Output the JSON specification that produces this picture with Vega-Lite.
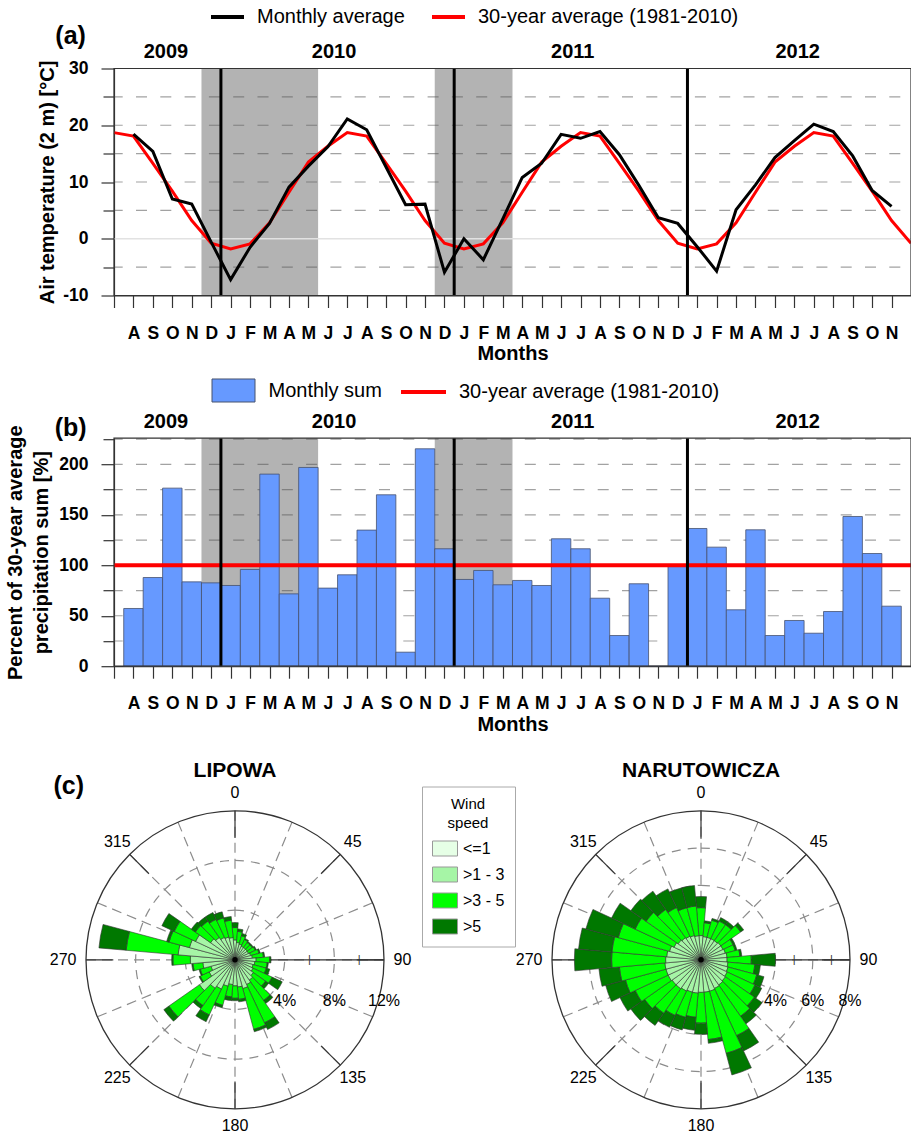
{
"$schema": "https://vega.github.io/schema/vega-lite/v6.json",
"background": "white",
"padding": {"left": 5, "top": -2.5, "right": 0, "bottom": 0},
"config": {
  "font": "Liberation Sans",
  "view": {"stroke": null},
  "axis": {"labelFont": "Liberation Sans", "labelFontWeight": "bold", "labelFontSize": 17.5, "labelColor": "#000", "titleFont": "Liberation Sans", "titleFontWeight": "bold", "titleFontSize": 20, "titleColor": "#000", "domainColor": "#333", "domainWidth": 1.2, "tickColor": "#333", "tickWidth": 1.2, "grid": false},
  "axisX": {"labelOverlap": false, "labelFlush": false, "labelBound": false},
  "legend": {"labelFont": "Liberation Sans", "labelColor": "#000", "labelLimit": 500},
  "text": {"font": "Liberation Sans"}
},
"datasets": {
  "temp": [
    {"i":0,"avg":18.7},{"i":1,"obs":18.45,"avg":18.1},{"i":2,"obs":15.4,"avg":13.3},{"i":3,"obs":7.0,"avg":8.4},{"i":4,"obs":6.1,"avg":3.2},{"i":5,"obs":-0.6,"avg":-0.8},
    {"i":6,"obs":-7.2,"avg":-1.8},{"i":7,"obs":-1.5,"avg":-0.9},{"i":8,"obs":2.7,"avg":2.8},{"i":9,"obs":9.1,"avg":8.2},{"i":10,"obs":12.8,"avg":13.5},{"i":11,"obs":16.2,"avg":16.3},
    {"i":12,"obs":21.1,"avg":18.7},{"i":13,"obs":19.2,"avg":18.1},{"i":14,"obs":12.6,"avg":13.3},{"i":15,"obs":6.0,"avg":8.4},{"i":16,"obs":6.1,"avg":3.2},{"i":17,"obs":-5.9,"avg":-0.8},
    {"i":18,"obs":0.0,"avg":-1.8},{"i":19,"obs":-3.7,"avg":-0.9},{"i":20,"obs":3.5,"avg":2.8},{"i":21,"obs":10.8,"avg":8.2},{"i":22,"obs":13.3,"avg":13.5},{"i":23,"obs":18.4,"avg":16.3},
    {"i":24,"obs":17.7,"avg":18.7},{"i":25,"obs":18.9,"avg":18.1},{"i":26,"obs":14.8,"avg":13.3},{"i":27,"obs":9.4,"avg":8.4},{"i":28,"obs":3.7,"avg":3.2},{"i":29,"obs":2.7,"avg":-0.8},
    {"i":30,"obs":-1.4,"avg":-1.8},{"i":31,"obs":-5.7,"avg":-0.9},{"i":32,"obs":5.1,"avg":2.8},{"i":33,"obs":9.5,"avg":8.2},{"i":34,"obs":14.3,"avg":13.5},{"i":35,"obs":17.3,"avg":16.3},
    {"i":36,"obs":20.2,"avg":18.7},{"i":37,"obs":18.9,"avg":18.1},{"i":38,"obs":14.6,"avg":13.3},{"i":39,"obs":8.5,"avg":8.4},{"i":40,"obs":5.7,"avg":3.2},{"i":41,"avg":-0.8}
  ],
  "precip": [
    {"i":1,"p":57.2},{"i":2,"p":87.9},{"i":3,"p":176.5},{"i":4,"p":83.6},{"i":5,"p":82.6},{"i":6,"p":80.0},{"i":7,"p":95.9},{"i":8,"p":190.4},{"i":9,"p":71.7},{"i":10,"p":197.0},
    {"i":11,"p":77.4},{"i":12,"p":90.6},{"i":13,"p":134.9},{"i":14,"p":169.9},{"i":15,"p":13.9},{"i":16,"p":215.5},{"i":17,"p":116.4},{"i":18,"p":86.0},{"i":19,"p":94.9},{"i":20,"p":80.7},
    {"i":21,"p":85.0},{"i":22,"p":80.0},{"i":23,"p":126.3},{"i":24,"p":116.4},{"i":25,"p":67.4},{"i":26,"p":30.4},{"i":27,"p":81.7},{"i":28,"p":0},{"i":29,"p":98.8},{"i":30,"p":136.5},
    {"i":31,"p":118.0},{"i":32,"p":55.9},{"i":33,"p":135.2},{"i":34,"p":30.4},{"i":35,"p":45.3},{"i":36,"p":32.7},{"i":37,"p":54.2},{"i":38,"p":148.4},{"i":39,"p":111.7},{"i":40,"p":59.5}
  ],
  "shades": [{"s":4.5,"e":10.5},{"s":16.5,"e":20.5}],
  "yearlines": [{"b":5.5},{"b":17.5},{"b":29.5}],
  "years": [{"yr":"2009","mid":2.67},{"yr":"2010","mid":11.32},{"yr":"2011","mid":23.6},{"yr":"2012","mid":35.17}],
  "angles": [{"a":0,"lab":"0"},{"a":45,"lab":"45"},{"a":90,"lab":"90"},{"a":135,"lab":"135"},{"a":180,"lab":"180"},{"a":225,"lab":"225"},{"a":270,"lab":"270"},{"a":315,"lab":"315"}],
  "spokes": [{"a":0},{"a":22.5},{"a":45},{"a":67.5},{"a":90},{"a":112.5},{"a":135},{"a":157.5},{"a":180},{"a":202.5},{"a":225},{"a":247.5},{"a":270},{"a":292.5},{"a":315},{"a":337.5}],
  "wind": [
    {"s":"LIPOWA","d":0,"<=1":0.2,">1 - 3":1.4,">3 - 5":1.0,">5":0.4},
    {"s":"LIPOWA","d":10,"<=1":0.2,">1 - 3":1.2,">3 - 5":0.9,">5":0.2},
    {"s":"LIPOWA","d":20,"<=1":0.2,">1 - 3":1.1,">3 - 5":0.7,">5":0.2},
    {"s":"LIPOWA","d":30,"<=1":0.2,">1 - 3":1.0,">3 - 5":0.6,">5":0.1},
    {"s":"LIPOWA","d":40,"<=1":0.2,">1 - 3":1.0,">3 - 5":0.5,">5":0.1},
    {"s":"LIPOWA","d":50,"<=1":0.2,">1 - 3":1.0,">3 - 5":0.5,">5":0.1},
    {"s":"LIPOWA","d":60,"<=1":0.2,">1 - 3":1.0,">3 - 5":0.6,">5":0.1},
    {"s":"LIPOWA","d":70,"<=1":0.2,">1 - 3":1.1,">3 - 5":0.7,">5":0.1},
    {"s":"LIPOWA","d":80,"<=1":0.2,">1 - 3":1.2,">3 - 5":0.9,">5":0.1},
    {"s":"LIPOWA","d":90,"<=1":0.2,">1 - 3":1.5,">3 - 5":1.1,">5":0.1},
    {"s":"LIPOWA","d":100,"<=1":0.2,">1 - 3":1.4,">3 - 5":1.0,">5":0.1},
    {"s":"LIPOWA","d":110,"<=1":0.2,">1 - 3":1.3,">3 - 5":1.1,">5":0.3},
    {"s":"LIPOWA","d":120,"<=1":0.2,">1 - 3":1.4,">3 - 5":1.7,">5":0.9},
    {"s":"LIPOWA","d":130,"<=1":0.2,">1 - 3":1.6,">3 - 5":1.2,">5":0.3},
    {"s":"LIPOWA","d":140,"<=1":0.2,">1 - 3":1.8,">3 - 5":2.0,">5":0.3},
    {"s":"LIPOWA","d":150,"<=1":0.2,">1 - 3":2.0,">3 - 5":3.4,">5":0.6},
    {"s":"LIPOWA","d":160,"<=1":0.2,">1 - 3":2.2,">3 - 5":3.4,">5":0.2},
    {"s":"LIPOWA","d":170,"<=1":0.2,">1 - 3":2.0,">3 - 5":1.0,">5":0.2},
    {"s":"LIPOWA","d":180,"<=1":0.2,">1 - 3":1.9,">3 - 5":1.0,">5":0.2},
    {"s":"LIPOWA","d":190,"<=1":0.2,">1 - 3":1.8,">3 - 5":1.0,">5":0.3},
    {"s":"LIPOWA","d":200,"<=1":0.2,">1 - 3":2.0,">3 - 5":1.6,">5":0.2},
    {"s":"LIPOWA","d":210,"<=1":0.2,">1 - 3":2.4,">3 - 5":2.3,">5":0.6},
    {"s":"LIPOWA","d":220,"<=1":0.2,">1 - 3":2.6,">3 - 5":1.7,">5":0.3},
    {"s":"LIPOWA","d":230,"<=1":0.2,">1 - 3":3.3,">3 - 5":3.0,">5":0.5},
    {"s":"LIPOWA","d":240,"<=1":0.2,">1 - 3":2.1,">3 - 5":0.8,">5":0.1},
    {"s":"LIPOWA","d":250,"<=1":0.2,">1 - 3":1.8,">3 - 5":0.9,">5":0.1},
    {"s":"LIPOWA","d":260,"<=1":0.2,">1 - 3":2.4,">3 - 5":0.8,">5":0.1},
    {"s":"LIPOWA","d":270,"<=1":0.2,">1 - 3":3.4,">3 - 5":1.4,">5":0.1},
    {"s":"LIPOWA","d":280,"<=1":0.2,">1 - 3":4.4,">3 - 5":4.2,">5":2.2},
    {"s":"LIPOWA","d":290,"<=1":0.2,">1 - 3":3.6,">3 - 5":1.7,">5":0.2},
    {"s":"LIPOWA","d":300,"<=1":0.2,">1 - 3":3.3,">3 - 5":1.9,">5":1.1},
    {"s":"LIPOWA","d":310,"<=1":0.2,">1 - 3":2.2,">3 - 5":1.5,">5":0.4},
    {"s":"LIPOWA","d":320,"<=1":0.2,">1 - 3":2.0,">3 - 5":1.6,">5":0.4},
    {"s":"LIPOWA","d":330,"<=1":0.2,">1 - 3":1.8,">3 - 5":1.6,">5":0.6},
    {"s":"LIPOWA","d":340,"<=1":0.2,">1 - 3":1.7,">3 - 5":1.6,">5":0.5},
    {"s":"LIPOWA","d":350,"<=1":0.2,">1 - 3":1.6,">3 - 5":1.4,">5":0.3},
    {"s":"NARUTOWICZA","d":0,"<=1":0.15,">1 - 3":1.15,">3 - 5":1.5,">5":0.6},
    {"s":"NARUTOWICZA","d":10,"<=1":0.15,">1 - 3":1.1,">3 - 5":0.75,">5":0.1},
    {"s":"NARUTOWICZA","d":20,"<=1":0.15,">1 - 3":1.1,">3 - 5":0.95,">5":0.1},
    {"s":"NARUTOWICZA","d":30,"<=1":0.15,">1 - 3":1.1,">3 - 5":1.05,">5":0.2},
    {"s":"NARUTOWICZA","d":40,"<=1":0.15,">1 - 3":1.1,">3 - 5":1.05,">5":0.2},
    {"s":"NARUTOWICZA","d":50,"<=1":0.15,">1 - 3":1.15,">3 - 5":1.3,">5":0.2},
    {"s":"NARUTOWICZA","d":60,"<=1":0.15,">1 - 3":1.15,">3 - 5":0.6,">5":0.1},
    {"s":"NARUTOWICZA","d":70,"<=1":0.15,">1 - 3":1.2,">3 - 5":0.55,">5":0.1},
    {"s":"NARUTOWICZA","d":80,"<=1":0.15,">1 - 3":1.25,">3 - 5":0.7,">5":0.1},
    {"s":"NARUTOWICZA","d":90,"<=1":0.15,">1 - 3":1.25,">3 - 5":1.3,">5":1.3},
    {"s":"NARUTOWICZA","d":100,"<=1":0.15,">1 - 3":1.3,">3 - 5":1.45,">5":0.3},
    {"s":"NARUTOWICZA","d":110,"<=1":0.15,">1 - 3":1.35,">3 - 5":1.6,">5":0.4},
    {"s":"NARUTOWICZA","d":120,"<=1":0.15,">1 - 3":1.4,">3 - 5":1.65,">5":0.4},
    {"s":"NARUTOWICZA","d":130,"<=1":0.15,">1 - 3":1.45,">3 - 5":1.9,">5":0.5},
    {"s":"NARUTOWICZA","d":140,"<=1":0.15,">1 - 3":1.5,">3 - 5":2.05,">5":0.5},
    {"s":"NARUTOWICZA","d":150,"<=1":0.15,">1 - 3":1.55,">3 - 5":2.8,">5":0.9},
    {"s":"NARUTOWICZA","d":160,"<=1":0.15,">1 - 3":1.6,">3 - 5":3.45,">5":1.2},
    {"s":"NARUTOWICZA","d":170,"<=1":0.15,">1 - 3":1.6,">3 - 5":2.55,">5":0.2},
    {"s":"NARUTOWICZA","d":180,"<=1":0.15,">1 - 3":1.6,">3 - 5":1.65,">5":0.6},
    {"s":"NARUTOWICZA","d":190,"<=1":0.15,">1 - 3":1.65,">3 - 5":1.3,">5":0.7},
    {"s":"NARUTOWICZA","d":200,"<=1":0.15,">1 - 3":1.65,">3 - 5":1.4,">5":0.7},
    {"s":"NARUTOWICZA","d":210,"<=1":0.15,">1 - 3":1.7,">3 - 5":1.45,">5":0.7},
    {"s":"NARUTOWICZA","d":220,"<=1":0.15,">1 - 3":1.75,">3 - 5":1.6,">5":0.8},
    {"s":"NARUTOWICZA","d":230,"<=1":0.15,">1 - 3":1.75,">3 - 5":1.8,">5":0.9},
    {"s":"NARUTOWICZA","d":240,"<=1":0.15,">1 - 3":1.8,">3 - 5":1.95,">5":0.9},
    {"s":"NARUTOWICZA","d":250,"<=1":0.15,">1 - 3":1.8,">3 - 5":2.25,">5":1.1},
    {"s":"NARUTOWICZA","d":260,"<=1":0.15,">1 - 3":1.8,">3 - 5":2.45,">5":1.1},
    {"s":"NARUTOWICZA","d":270,"<=1":0.15,">1 - 3":1.75,">3 - 5":2.9,">5":2.0},
    {"s":"NARUTOWICZA","d":280,"<=1":0.15,">1 - 3":1.7,">3 - 5":2.95,">5":1.8},
    {"s":"NARUTOWICZA","d":290,"<=1":0.15,">1 - 3":1.6,">3 - 5":2.85,">5":1.8},
    {"s":"NARUTOWICZA","d":300,"<=1":0.15,">1 - 3":1.45,">3 - 5":2.3,">5":1.4},
    {"s":"NARUTOWICZA","d":310,"<=1":0.15,">1 - 3":1.35,">3 - 5":2.1,">5":1.0},
    {"s":"NARUTOWICZA","d":320,"<=1":0.15,">1 - 3":1.3,">3 - 5":1.85,">5":1.2},
    {"s":"NARUTOWICZA","d":330,"<=1":0.15,">1 - 3":1.25,">3 - 5":1.7,">5":1.1},
    {"s":"NARUTOWICZA","d":340,"<=1":0.15,">1 - 3":1.2,">3 - 5":1.55,">5":1.1},
    {"s":"NARUTOWICZA","d":350,"<=1":0.15,">1 - 3":1.15,">3 - 5":1.6,">5":1.1}
  ]
},
"bounds": "flush",
"spacing": 142.7,
"resolve": {"scale": {"x": "independent", "y": "independent", "color": "independent", "fill": "independent", "stroke": "independent", "theta": "independent", "radius": "independent"}, "legend": {"color": "independent", "fill": "independent", "stroke": "independent"}},
"vconcat": [
   {
    "width": 797, "height": 227,
    "layer": [
     {"data": {"name": "shades"}, "mark": {"type": "rect", "fill": "#b3b3b3"},
      "encoding": {
        "x": {"field": "s", "type": "quantitative", "scale": {"domain": [0, 41], "nice": false, "zero": false, "padding": 0},
              "axis": {"values": [0,1,2,3,4,5,6,7,8,9,10,11,12,13,14,15,16,17,18,19,20,21,22,23,24,25,26,27,28,29,30,31,32,33,34,35,36,37,38,39,40], "tickCount": 60, "labelExpr": "datum.value == 0 ? '' : ['J','A','S','O','N','D','J','F','M','A','M','J'][datum.value % 12]", "tickSize": 12, "labelPadding": 16.5, "labelAngle": 0, "labelOverlap": false, "labelFlush": false, "title": "Months", "titlePadding": 2}},
        "x2": {"field": "e"},
        "y": {"datum": -10, "type": "quantitative", "scale": {"domain": [-10, 30], "nice": false, "zero": false},
              "axis": {"values": [-10,-5,0,5,10,15,20,25,30], "tickCount": 20, "labelExpr": "datum.value % 10 == 0 ? '' + datum.value : ''", "tickSize": 13, "labelPadding": 13, "title": "Air temperature (2 m) [°C]", "titlePadding": 5, "tickDash": {"condition": {"test": "datum.value % 10 != 0", "value": [11, 30]}, "value": [30, 0]}}},
        "y2": {"datum": 30}
      }},
     {"data": {"values": [{"g":-5},{"g":5},{"g":10},{"g":15},{"g":20},{"g":25}]},
      "mark": {"type": "rule", "stroke": "#555", "strokeOpacity": 0.55, "strokeWidth": 1.2, "strokeDash": [11, 13.3], "strokeDashOffset": 13.6},
      "encoding": {"y": {"field": "g", "type": "quantitative", "scale": {"domain": [-10, 30], "nice": false, "zero": false}}}},
     {"data": {"values": [{"g":0}]},
      "mark": {"type": "rule", "stroke": "#e2e2e2", "strokeWidth": 1.5},
      "encoding": {"y": {"field": "g", "type": "quantitative", "scale": {"domain": [-10, 30], "nice": false, "zero": false}}}},
     {"data": {"name": "temp"}, "mark": {"type": "line", "strokeWidth": 3},
      "encoding": {
        "x": {"field": "i", "type": "quantitative", "scale": {"domain": [0, 41], "nice": false, "zero": false, "padding": 0}},
        "y": {"field": "avg", "type": "quantitative", "scale": {"domain": [-10, 30], "nice": false, "zero": false}},
        "color": {"datum": "30-year average (1981-2010)", "type": "nominal",
                  "scale": {"domain": ["Monthly average", "30-year average (1981-2010)"], "range": ["#000000", "#ff0000"]},
                  "legend": {"title": null, "orient": "none", "legendX": 95, "legendY": -70.2, "direction": "horizontal", "symbolType": "stroke", "symbolSize": 1089, "symbolStrokeWidth": 4, "labelFontSize": 20, "labelOffset": 11, "columnPadding": 19, "padding": 0}}
      }},
     {"data": {"name": "temp"}, "mark": {"type": "line", "strokeWidth": 3},
      "encoding": {
        "x": {"field": "i", "type": "quantitative", "scale": {"domain": [0, 41], "nice": false, "zero": false, "padding": 0}},
        "y": {"field": "obs", "type": "quantitative", "scale": {"domain": [-10, 30], "nice": false, "zero": false}},
        "color": {"datum": "Monthly average", "type": "nominal"}
      }},
     {"data": {"name": "yearlines"}, "mark": {"type": "rule", "stroke": "#000", "strokeWidth": 3},
      "encoding": {"x": {"field": "b", "type": "quantitative", "scale": {"domain": [0, 41], "nice": false, "zero": false, "padding": 0}}}},
     {"data": {"values": [{"f": 1}]}, "mark": {"type": "rect", "fill": null, "stroke": "#333", "strokeWidth": 1.2},
      "encoding": {"x": {"datum": 0, "type": "quantitative"}, "x2": {"datum": 41}, "y": {"datum": -10, "type": "quantitative"}, "y2": {"datum": 30}}},
     {"data": {"name": "years"}, "mark": {"type": "text", "fontSize": 20, "fontWeight": "bold"},
      "encoding": {"x": {"field": "mid", "type": "quantitative"}, "y": {"datum": 32.85, "type": "quantitative"}, "text": {"field": "yr"}}},
     {"data": {"values": [{"t": "(a)"}]}, "mark": {"type": "text", "fontSize": 25, "fontWeight": "bold"},
      "encoding": {"x": {"datum": -2.23, "type": "quantitative"}, "y": {"datum": 35.75, "type": "quantitative"}, "text": {"field": "t"}}}
    ]
   },
   {
    "width": 797, "height": 228,
    "layer": [
     {"data": {"name": "shades"}, "mark": {"type": "rect", "fill": "#b3b3b3"},
      "encoding": {
        "x": {"field": "s", "type": "quantitative", "scale": {"domain": [0, 41], "nice": false, "zero": false, "padding": 0},
              "axis": {"values": [0,1,2,3,4,5,6,7,8,9,10,11,12,13,14,15,16,17,18,19,20,21,22,23,24,25,26,27,28,29,30,31,32,33,34,35,36,37,38,39,40], "tickCount": 60, "labelExpr": "datum.value == 0 ? '' : ['J','A','S','O','N','D','J','F','M','A','M','J'][datum.value % 12]", "tickSize": 12, "labelPadding": 16.5, "labelAngle": 0, "labelOverlap": false, "labelFlush": false, "title": "Months", "titlePadding": 2}},
        "x2": {"field": "e"},
        "y": {"datum": 0, "type": "quantitative", "scale": {"domain": [0, 226], "nice": false, "zero": false},
              "axis": {"values": [0,25,50,75,100,125,150,175,200,225], "tickCount": 20, "labelExpr": "datum.value % 50 == 0 ? '' + datum.value : ''", "tickSize": 13, "labelPadding": 13, "title": ["Percent of 30-year average", "precipitation sum [%]"], "titleLineHeight": 26, "titlePadding": 7, "tickDash": {"condition": {"test": "datum.value % 50 != 0", "value": [11, 30]}, "value": [30, 0]}}},
        "y2": {"datum": 226}
      }},
     {"data": {"values": [{"g":25},{"g":50},{"g":75},{"g":100},{"g":125},{"g":150},{"g":175},{"g":200},{"g":225}]},
      "mark": {"type": "rule", "stroke": "#555", "strokeOpacity": 0.55, "strokeWidth": 1.2, "strokeDash": [11, 13.3], "strokeDashOffset": 13.6},
      "encoding": {"y": {"field": "g", "type": "quantitative", "scale": {"domain": [0, 226], "nice": false, "zero": false}}}},
     {"data": {"name": "precip"}, "mark": {"type": "bar", "orient": "vertical", "width": 19.44, "stroke": "#46526e", "strokeWidth": 0.8},
      "encoding": {
        "x": {"field": "i", "type": "quantitative", "scale": {"domain": [0, 41], "nice": false, "zero": false, "padding": 0}},
        "y": {"field": "p", "type": "quantitative", "scale": {"domain": [0, 226], "nice": false, "zero": false}},
        "fill": {"datum": "Monthly sum", "type": "nominal", "scale": {"range": ["#6699ff"]},
                 "legend": {"title": null, "orient": "none", "legendX": 97.5, "legendY": -69.7, "symbolType": "M-1,-0.535H1V0.535H-1Z", "symbolSize": 1849, "symbolStrokeColor": "#46526e", "symbolStrokeWidth": 1, "labelFontSize": 20, "labelOffset": 13, "padding": 0}}
      }},
     {"data": {"values": [{"f": 1}]}, "mark": {"type": "rule", "strokeWidth": 4},
      "encoding": {
        "y": {"datum": 100, "type": "quantitative"},
        "stroke": {"datum": "30-year average (1981-2010)", "type": "nominal", "scale": {"range": ["#ff0000"]},
                   "legend": {"title": null, "orient": "none", "legendX": 285, "legendY": -70.7, "symbolType": "stroke", "symbolSize": 2025, "symbolStrokeWidth": 4, "labelFontSize": 20, "labelOffset": 11, "padding": 0}}
      }},
     {"data": {"name": "yearlines"}, "mark": {"type": "rule", "stroke": "#000", "strokeWidth": 3},
      "encoding": {"x": {"field": "b", "type": "quantitative", "scale": {"domain": [0, 41], "nice": false, "zero": false, "padding": 0}}}},
     {"data": {"values": [{"f": 1}]}, "mark": {"type": "rect", "fill": null, "stroke": "#333", "strokeWidth": 1.2},
      "encoding": {"x": {"datum": 0, "type": "quantitative"}, "x2": {"datum": 41}, "y": {"datum": 0, "type": "quantitative"}, "y2": {"datum": 226}}},
     {"data": {"name": "years"}, "mark": {"type": "text", "fontSize": 20, "fontWeight": "bold"},
      "encoding": {"x": {"field": "mid", "type": "quantitative"}, "y": {"datum": 241.6, "type": "quantitative"}, "text": {"field": "yr"}}},
     {"data": {"values": [{"t": "(b)"}]}, "mark": {"type": "text", "fontSize": 25, "fontWeight": "bold"},
      "encoding": {"x": {"datum": -2.23, "type": "quantitative"}, "y": {"datum": 236.1, "type": "quantitative"}, "text": {"field": "t"}}}
    ]
   },
 {
  "bounds": "flush",
  "spacing": 224,
  "resolve": {"scale": {"theta": "independent", "radius": "independent", "fill": "independent"}, "legend": {"fill": "independent"}},
  "hconcat": [
   {
    "width": 242, "height": 301.8,
    "layer": [
     {"data": {"values": [{"r": 4}, {"r": 8}]}, "mark": {"type": "arc", "filled": false, "fill": null, "stroke": "#8c8c8c", "strokeWidth": 1.2, "strokeDash": [9, 7]},
      "encoding": {"theta": {"datum": 0, "type": "quantitative", "scale": {"domain": [0, 360], "range": [0, 6.283185307179586], "zero": false, "nice": false}}, "theta2": {"datum": 360},
                   "radius": {"field": "r", "type": "quantitative", "scale": {"type": "linear", "domain": [0, 12], "range": [0, 149], "zero": true, "nice": false}}, "radius2": {"datum": 0}}},
     {"data": {"name": "spokes"}, "mark": {"type": "arc", "filled": false, "fill": null, "stroke": "#8c8c8c", "strokeWidth": 1.2, "strokeDash": [10, 6]},
      "encoding": {"theta": {"field": "a", "type": "quantitative", "stack": null}, "theta2": {"field": "a"}, "radius": {"datum": 12, "type": "quantitative"}, "radius2": {"datum": 0}}},
     {"data": {"name": "angles"}, "mark": {"type": "arc", "filled": false, "fill": null, "stroke": "#333", "strokeWidth": 1.2},
      "encoding": {"theta": {"field": "a", "type": "quantitative", "stack": null}, "theta2": {"field": "a"}, "radius": {"datum": 12, "type": "quantitative"}, "radius2": {"datum": 9.8}}},
     {"data": {"values": [{"f": 1}]}, "mark": {"type": "arc", "filled": false, "fill": null, "stroke": "#333", "strokeWidth": 1.2},
      "encoding": {"theta": {"datum": 90, "type": "quantitative"}, "theta2": {"datum": 90}, "radius": {"datum": 12, "type": "quantitative"}, "radius2": {"datum": 0}}},
     {"data": {"values": [{"r": 12}]}, "mark": {"type": "arc", "filled": false, "fill": null, "stroke": "#333", "strokeWidth": 1.3},
      "encoding": {"theta": {"datum": 0, "type": "quantitative"}, "theta2": {"datum": 360}, "radius": {"field": "r", "type": "quantitative"}, "radius2": {"datum": 0}}},
     {"data": {"values": [{"r": 2}, {"r": 6}, {"r": 10}]}, "mark": {"type": "text", "text": "|", "fontSize": 11, "color": "#333"},
      "encoding": {"theta": {"datum": 90, "type": "quantitative"}, "radius": {"field": "r", "type": "quantitative"}}},
     {"data": {"name": "wind"},
      "transform": [
        {"filter": "datum.s == 'LIPOWA'"},
        {"fold": ["<=1", ">1 - 3", ">3 - 5", ">5"], "as": ["speed", "pct"]},
        {"stack": "pct", "groupby": ["d"], "sort": [{"field": "speed", "order": "ascending"}], "as": ["r0", "r1"]},
        {"bin": {"extent": [-5, 355], "step": 10, "nice": false}, "field": "d", "as": ["d0", "d1"]}
      ],
      "mark": {"type": "arc", "stroke": "#333", "strokeWidth": 0.6},
      "encoding": {
        "theta": {"field": "d0", "type": "quantitative", "stack": null}, "theta2": {"field": "d1"},
        "radius": {"field": "r1", "type": "quantitative", "stack": null}, "radius2": {"field": "r0"},
        "fill": {"field": "speed", "type": "nominal",
                 "scale": {"domain": ["<=1", ">1 - 3", ">3 - 5", ">5"], "range": ["#e6ffe6", "#a6f5a6", "#00ff00", "#007800"]},
                 "legend": {"title": ["Wind", "speed"], "orient": "none", "legendX": 308, "legendY": -22.4, "direction": "vertical",
                            "titleFont": "Liberation Sans", "titleFontSize": 15, "titleFontWeight": "normal", "titleAlign": "center", "titleAnchor": "middle", "titleLineHeight": 19, "titlePadding": 5,
                            "labelFontSize": 16, "symbolType": "M-1,-0.6H1V0.6H-1Z", "symbolSize": 625, "symbolStrokeColor": "#999", "symbolStrokeWidth": 1, "symbolOpacity": 1,
                            "rowPadding": 3, "labelOffset": 5, "padding": 10, "strokeColor": "#aaa", "fillColor": "#fff"}}
      }},
     {"data": {"values": [{"f": 1}]}, "mark": {"type": "arc", "fill": "#000"},
      "encoding": {"theta": {"datum": 0, "type": "quantitative"}, "theta2": {"datum": 360}, "radius": {"datum": 0.22, "type": "quantitative"}, "radius2": {"datum": 0}}},
     {"data": {"name": "angles"}, "transform": [{"filter": "datum.a != 90 && datum.a != 270"}], "mark": {"type": "text", "fontSize": 16, "color": "#000"},
      "encoding": {"theta": {"field": "a", "type": "quantitative", "stack": null}, "radius": {"datum": 13.41, "type": "quantitative"}, "text": {"field": "lab"}}},
     {"data": {"name": "angles"}, "transform": [{"filter": "datum.a == 90"}], "mark": {"type": "text", "fontSize": 16, "color": "#000", "align": "left"},
      "encoding": {"theta": {"field": "a", "type": "quantitative", "stack": null}, "radius": {"datum": 12.77, "type": "quantitative"}, "text": {"field": "lab"}}},
     {"data": {"name": "angles"}, "transform": [{"filter": "datum.a == 270"}], "mark": {"type": "text", "fontSize": 16, "color": "#000", "align": "right"},
      "encoding": {"theta": {"field": "a", "type": "quantitative", "stack": null}, "radius": {"datum": 12.77, "type": "quantitative"}, "text": {"field": "lab"}}},
     {"data": {"values": [{"r": 4, "lab": "4%"}, {"r": 8, "lab": "8%"}, {"r": 12, "lab": "12%"}]}, "mark": {"type": "text", "fontSize": 16, "color": "#000", "dy": 41},
      "encoding": {"theta": {"datum": 90, "type": "quantitative"}, "radius": {"field": "r", "type": "quantitative"}, "text": {"field": "lab"}}},
     {"data": {"values": [{"t": "LIPOWA"}]}, "mark": {"type": "text", "fontSize": 21, "fontWeight": "bold", "color": "#000"},
      "encoding": {"theta": {"datum": 0, "type": "quantitative"}, "radius": {"datum": 15.17, "type": "quantitative"}, "text": {"field": "t"}}},
     {"data": {"values": [{"t": "(c)"}]}, "mark": {"type": "text", "fontSize": 25, "fontWeight": "bold", "color": "#000"},
      "encoding": {"theta": {"datum": 316.2, "type": "quantitative"}, "radius": {"datum": 19.34, "type": "quantitative"}, "text": {"field": "t"}}}
    ]
   },
   {
    "width": 242, "height": 301.8,
    "layer": [
     {"data": {"values": [{"r": 2}, {"r": 4}, {"r": 6}]}, "mark": {"type": "arc", "filled": false, "fill": null, "stroke": "#8c8c8c", "strokeWidth": 1.2, "strokeDash": [9, 7]},
      "encoding": {"theta": {"datum": 0, "type": "quantitative", "scale": {"domain": [0, 360], "range": [0, 6.283185307179586], "zero": false, "nice": false}}, "theta2": {"datum": 360},
                   "radius": {"field": "r", "type": "quantitative", "scale": {"type": "linear", "domain": [0, 8], "range": [0, 149], "zero": true, "nice": false}}, "radius2": {"datum": 0}}},
     {"data": {"name": "spokes"}, "mark": {"type": "arc", "filled": false, "fill": null, "stroke": "#8c8c8c", "strokeWidth": 1.2, "strokeDash": [10, 6]},
      "encoding": {"theta": {"field": "a", "type": "quantitative", "stack": null}, "theta2": {"field": "a"}, "radius": {"datum": 8, "type": "quantitative"}, "radius2": {"datum": 0}}},
     {"data": {"name": "angles"}, "mark": {"type": "arc", "filled": false, "fill": null, "stroke": "#333", "strokeWidth": 1.2},
      "encoding": {"theta": {"field": "a", "type": "quantitative", "stack": null}, "theta2": {"field": "a"}, "radius": {"datum": 8, "type": "quantitative"}, "radius2": {"datum": 6.5}}},
     {"data": {"values": [{"f": 1}]}, "mark": {"type": "arc", "filled": false, "fill": null, "stroke": "#333", "strokeWidth": 1.2},
      "encoding": {"theta": {"datum": 90, "type": "quantitative"}, "theta2": {"datum": 90}, "radius": {"datum": 8, "type": "quantitative"}, "radius2": {"datum": 0}}},
     {"data": {"values": [{"r": 8}]}, "mark": {"type": "arc", "filled": false, "fill": null, "stroke": "#333", "strokeWidth": 1.3},
      "encoding": {"theta": {"datum": 0, "type": "quantitative"}, "theta2": {"datum": 360}, "radius": {"field": "r", "type": "quantitative"}, "radius2": {"datum": 0}}},
     {"data": {"values": [{"r": 1}, {"r": 3}, {"r": 5}, {"r": 7}]}, "mark": {"type": "text", "text": "|", "fontSize": 11, "color": "#333"},
      "encoding": {"theta": {"datum": 90, "type": "quantitative"}, "radius": {"field": "r", "type": "quantitative"}}},
     {"data": {"name": "wind"},
      "transform": [
        {"filter": "datum.s == 'NARUTOWICZA'"},
        {"fold": ["<=1", ">1 - 3", ">3 - 5", ">5"], "as": ["speed", "pct"]},
        {"stack": "pct", "groupby": ["d"], "sort": [{"field": "speed", "order": "ascending"}], "as": ["r0", "r1"]},
        {"bin": {"extent": [-5, 355], "step": 10, "nice": false}, "field": "d", "as": ["d0", "d1"]}
      ],
      "mark": {"type": "arc", "stroke": "#333", "strokeWidth": 0.6},
      "encoding": {
        "theta": {"field": "d0", "type": "quantitative", "stack": null}, "theta2": {"field": "d1"},
        "radius": {"field": "r1", "type": "quantitative", "stack": null}, "radius2": {"field": "r0"},
        "fill": {"field": "speed", "type": "nominal",
                 "scale": {"domain": ["<=1", ">1 - 3", ">3 - 5", ">5"], "range": ["#e6ffe6", "#a6f5a6", "#00ff00", "#007800"]},
                 "legend": null}
      }},
     {"data": {"values": [{"f": 1}]}, "mark": {"type": "arc", "fill": "#000"},
      "encoding": {"theta": {"datum": 0, "type": "quantitative"}, "theta2": {"datum": 360}, "radius": {"datum": 0.15, "type": "quantitative"}, "radius2": {"datum": 0}}},
     {"data": {"name": "angles"}, "transform": [{"filter": "datum.a != 90 && datum.a != 270"}], "mark": {"type": "text", "fontSize": 16, "color": "#000"},
      "encoding": {"theta": {"field": "a", "type": "quantitative", "stack": null}, "radius": {"datum": 8.94, "type": "quantitative"}, "text": {"field": "lab"}}},
     {"data": {"name": "angles"}, "transform": [{"filter": "datum.a == 90"}], "mark": {"type": "text", "fontSize": 16, "color": "#000", "align": "left"},
      "encoding": {"theta": {"field": "a", "type": "quantitative", "stack": null}, "radius": {"datum": 8.51, "type": "quantitative"}, "text": {"field": "lab"}}},
     {"data": {"name": "angles"}, "transform": [{"filter": "datum.a == 270"}], "mark": {"type": "text", "fontSize": 16, "color": "#000", "align": "right"},
      "encoding": {"theta": {"field": "a", "type": "quantitative", "stack": null}, "radius": {"datum": 8.51, "type": "quantitative"}, "text": {"field": "lab"}}},
     {"data": {"values": [{"r": 4, "lab": "4%"}, {"r": 6, "lab": "6%"}, {"r": 8, "lab": "8%"}]}, "mark": {"type": "text", "fontSize": 16, "color": "#000", "dy": 41},
      "encoding": {"theta": {"datum": 90, "type": "quantitative"}, "radius": {"field": "r", "type": "quantitative"}, "text": {"field": "lab"}}},
     {"data": {"values": [{"t": "NARUTOWICZA"}]}, "mark": {"type": "text", "fontSize": 21, "fontWeight": "bold", "color": "#000"},
      "encoding": {"theta": {"datum": 0, "type": "quantitative"}, "radius": {"datum": 10.14, "type": "quantitative"}, "text": {"field": "t"}}}
    ]
   }
  ]
 }
]
}
